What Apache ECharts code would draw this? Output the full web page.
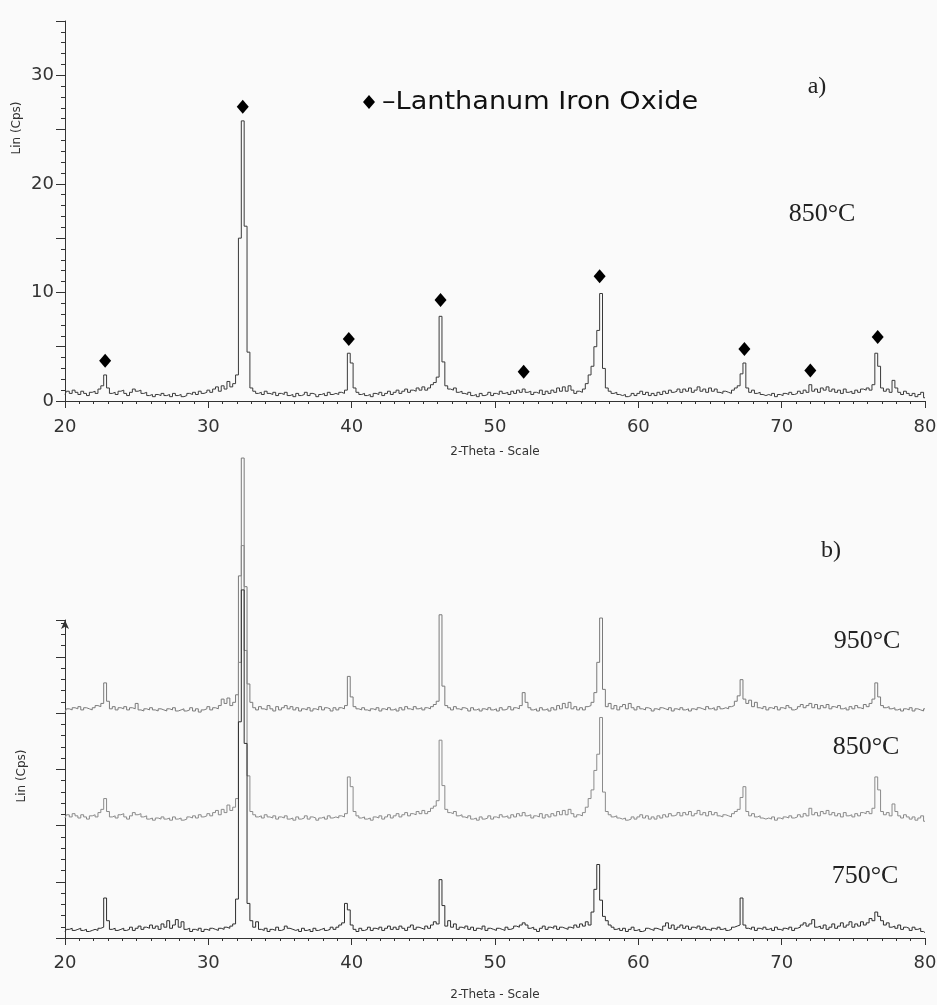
<!DOCTYPE html>
<html>
<head>
<meta charset="utf-8">
<script src="https://cdn.jsdelivr.net/npm/echarts@6/dist/echarts.min.js"></script>
<style>
  html, body { margin: 0; padding: 0; background: #fafafa; }
  #xrd { width: 937px; height: 1005px; }
</style>
</head>
<body>
<div id="xrd"></div>
<script>
// 2-theta sampling of the scans
var thetaStart = 20, thetaStep = 0.2;

// LaFeO3 calcined at 850 °C (Lin, cps) - one row per two degrees, 20.0 ... 79.8, then 80.0
var cps850 = [
	0.6, 0.9, 0.7, 1.0, 0.8,   0.6, 0.9, 0.7, 0.5, 0.8,
	0.9, 0.7, 1.1, 1.4, 2.4,   1.2, 0.7, 0.8, 0.6, 0.9,
	1.0, 0.7, 0.5, 0.8, 1.1,   0.9, 1.0, 0.7, 0.8, 0.5,
	0.6, 0.4, 0.6, 0.5, 0.7,   0.5, 0.6, 0.4, 0.7, 0.5,
	0.6, 0.4, 0.5, 0.7, 0.6,   0.8, 0.6, 0.9, 0.7, 0.8,
	1.0, 0.8, 1.1, 1.3, 0.9,   1.4, 1.1, 1.8, 1.3, 1.6,
	2.4, 15.0, 25.8, 16.1, 4.5, 1.2, 0.9, 0.7, 0.8, 0.6,
	0.9, 0.7, 0.6, 0.8, 0.5,   0.7, 0.6, 0.8, 0.5, 0.6,
	0.4, 0.7, 0.5, 0.6, 0.8,   0.5, 0.7, 0.6, 0.4, 0.6,
	0.7, 0.5, 0.8, 0.6, 0.7,   0.6, 0.8, 0.7, 1.0, 4.4,
	3.5, 1.2, 0.8, 0.6, 0.7,   0.5, 0.6, 0.4, 0.7, 0.6,
	0.8, 0.5, 0.7, 0.9, 0.6,   0.8, 1.0, 0.7, 0.9, 1.1,
	0.8, 1.0, 0.9, 1.2, 1.0,   1.3, 1.0, 1.2, 1.5, 1.7,
	2.2, 7.8, 3.6, 1.4, 1.1,   1.0, 1.2, 0.8, 0.9, 0.7,
	0.6, 0.8, 0.5, 0.6, 0.4,   0.7, 0.5, 0.6, 0.8, 0.5,
	0.7, 0.6, 0.9, 0.7, 0.8,   0.6, 0.9, 0.7, 1.0, 0.8,
	1.1, 0.8, 0.9, 0.6, 0.8,   0.7, 1.0, 0.6, 0.9, 0.7,
	1.0, 0.8, 1.2, 0.9, 1.3,   0.9, 1.4, 1.0, 0.7, 0.9,
	0.8, 1.1, 1.6, 2.4, 3.2,   5.0, 6.5, 9.9, 3.0, 1.2,
	0.9, 0.7, 0.8, 0.6, 0.5,   0.6, 0.4, 0.5, 0.7, 0.5,
	0.7, 0.9, 0.6, 0.8, 0.5,   0.7, 0.5, 0.8, 0.6, 0.9,
	0.7, 1.0, 0.8, 0.9, 1.1,   0.8, 1.1, 0.9, 1.2, 0.8,
	1.0, 1.3, 0.9, 1.1, 0.8,   1.2, 0.9, 1.1, 0.8, 0.7,
	0.9, 0.8, 0.7, 1.0, 1.2,   1.4, 2.5, 3.5, 1.2, 0.8,
	1.0, 0.7, 0.8, 0.6, 0.5,   0.6, 0.5, 0.7, 0.4, 0.6,
	0.5, 0.7, 0.6, 0.8, 0.6,   0.7, 0.9, 0.7, 1.0, 0.8,
	1.5, 0.9, 1.1, 0.8, 1.2,   1.0, 1.3, 0.9, 1.1, 0.8,
	1.0, 0.7, 1.1, 0.8, 0.9,   0.7, 1.0, 0.8, 1.1, 1.0,
	1.2, 1.0, 1.5, 4.4, 3.2,   1.2, 0.9, 1.1, 0.8, 1.9,
	1.2, 0.8, 0.6, 0.9, 0.7,   0.5, 0.7, 0.4, 0.6, 0.8,
	0.3
];

// 950 °C scan (panel b, top trace)
var cps950 = [
	0.4, 0.7, 0.6, 0.8, 0.7,   0.9, 0.6, 0.8, 0.7, 0.6,
	0.8, 1.0, 0.9, 1.2, 3.1,   1.4, 0.7, 0.9, 0.6, 0.8,
	0.7, 0.9, 0.6, 0.8, 0.7,   1.2, 0.6, 0.5, 0.7, 0.6,
	0.8, 0.6, 0.5, 0.7, 0.6,   0.5, 0.7, 0.6, 0.8, 0.5,
	0.6, 0.7, 0.5, 0.6, 0.8,   0.5, 0.7, 0.4, 0.6, 0.7,
	0.9, 0.6, 0.8, 0.7, 1.0,   1.6, 1.2, 1.7, 1.0, 1.3,
	2.0, 13.0, 23.9, 12.0, 3.0, 1.3, 0.8, 0.6, 0.9, 0.7,
	0.6, 1.0, 0.7, 0.5, 0.9,   0.6, 0.8, 1.0, 0.7, 0.9,
	0.6, 0.8, 0.5, 0.7, 0.6,   0.8, 0.5, 0.7, 0.6, 0.9,
	0.6, 0.8, 0.7, 0.5, 0.8,   0.6, 0.8, 0.7, 1.0, 3.7,
	1.8, 0.9, 0.7, 0.6, 0.8,   0.6, 0.5, 0.7, 0.6, 0.8,
	0.5, 0.7, 0.6, 0.8, 0.6,   0.7, 0.5, 0.8, 0.6, 0.9,
	0.7, 0.6, 0.9, 0.7, 0.8,   0.6, 0.8, 0.7, 0.9, 1.1,
	1.4, 9.4, 2.8, 1.0, 0.8,   0.6, 0.9, 0.7, 0.6, 0.8,
	0.7, 0.5, 0.8, 0.6, 0.7,   0.5, 0.7, 0.6, 0.8, 0.6,
	0.7, 0.5, 0.8, 0.6, 0.7,   0.9, 0.6, 0.8, 0.7, 1.0,
	2.2, 1.3, 0.8, 0.6, 0.7,   0.5, 0.8, 0.6, 0.7, 0.5,
	0.8, 0.6, 1.0, 0.7, 1.2,   0.8, 1.3, 0.7, 0.9, 0.6,
	0.8, 0.6, 0.9, 1.0, 1.3,   2.2, 5.0, 9.1, 2.5, 0.9,
	1.2, 0.7, 1.0, 0.6, 0.9,   1.1, 0.7, 1.2, 0.8, 0.6,
	0.9, 0.7, 0.6, 0.8, 0.7,   0.5, 0.7, 0.6, 0.8, 0.7,
	0.6, 0.8, 0.5, 0.7, 0.6,   0.8, 0.6, 0.7, 0.5, 0.7,
	0.6, 0.8, 0.7, 0.6, 0.9,   0.7, 0.8, 0.6, 0.9, 0.7,
	0.8, 0.7, 0.9, 1.0, 1.4,   1.9, 3.4, 1.6, 1.2, 1.5,
	0.9, 1.3, 0.8, 0.7, 0.9,   0.6, 0.8, 0.7, 0.9, 0.6,
	0.8, 0.7, 1.0, 0.8, 0.6,   0.7, 0.9, 1.1, 0.8, 1.0,
	1.2, 0.8, 1.1, 0.7, 1.0,   0.8, 1.1, 0.7, 0.9, 0.8,
	1.0, 0.7, 0.8, 0.6, 0.9,   0.7, 1.0, 0.8, 0.7, 1.1,
	0.9, 1.2, 1.6, 3.1, 1.8,   1.0, 0.8, 0.9, 0.7, 0.8,
	0.6, 0.7, 0.5, 0.7, 0.6,   0.8, 0.5, 0.7, 0.6, 0.5,
	0.7
];

// 750 °C scan (panel b, bottom trace)
var cps750 = [
	0.6, 0.8, 0.9, 0.7, 0.8,   0.9, 0.7, 0.8, 0.6, 0.7,
	0.8, 0.7, 0.9, 1.0, 3.7,   1.6, 0.8, 0.9, 0.7, 0.8,
	0.9, 0.7, 0.8, 1.0, 0.7,   0.9, 1.1, 0.8, 1.0, 0.9,
	1.2, 0.9, 1.1, 0.8, 1.3,   1.0, 1.6, 0.9, 1.2, 1.7,
	1.0, 1.5, 0.8, 0.9, 0.6,   0.8, 0.7, 0.9, 0.6, 0.8,
	0.7, 0.9, 0.8, 0.7, 0.9,   0.8, 1.0, 0.9, 1.1, 1.3,
	3.6, 20.0, 32.2, 18.0, 3.2, 1.6, 1.0, 1.5, 0.8, 0.7,
	0.9, 0.6, 0.8, 0.7, 1.0,   0.7, 0.8, 1.1, 0.9, 0.8,
	0.7, 0.8, 0.6, 0.9, 0.7,   0.8, 0.6, 0.9, 0.7, 0.8,
	0.9, 0.7, 0.8, 1.0, 0.8,   1.0, 1.2, 1.4, 3.2, 2.6,
	1.2, 0.8, 0.6, 0.9, 0.7,   0.8, 1.0, 0.7, 0.9, 0.8,
	1.0, 0.7, 0.9, 1.1, 0.8,   1.0, 0.8, 1.1, 0.9, 0.7,
	1.0, 1.2, 0.8, 1.0, 0.9,   0.8, 1.1, 0.9, 1.2, 1.5,
	1.3, 5.4, 3.0, 1.1, 1.6,   1.0, 1.3, 0.8, 1.0, 0.9,
	1.1, 0.8, 1.0, 0.7, 0.9,   0.8, 1.1, 0.7, 0.9, 0.8,
	0.7, 0.9, 0.8, 0.7, 1.0,   0.8, 0.9, 1.1, 1.0, 1.2,
	1.4, 1.2, 0.9, 1.0, 0.8,   0.6, 0.9, 1.1, 0.8, 1.0,
	0.9, 1.1, 0.8, 1.0, 0.9,   0.8, 1.0, 0.9, 1.2, 1.0,
	1.3, 1.1, 1.5, 1.2, 2.4,   4.5, 6.8, 3.5, 2.0, 1.6,
	1.2, 1.0, 0.8, 0.9, 0.7,   0.9, 0.6, 0.8, 1.0, 0.7,
	0.8, 0.6, 0.7, 0.9, 0.8,   0.7, 0.9, 0.8, 0.7, 1.1,
	1.4, 0.9, 1.2, 0.8, 1.0,   1.2, 0.9, 1.1, 0.8, 1.0,
	0.9, 1.1, 0.8, 1.0, 0.8,   0.7, 0.9, 0.8, 1.0, 0.8,
	0.9, 0.7, 0.8, 1.0, 1.1,   1.2, 3.7, 1.2, 0.9, 0.8,
	1.0, 0.7, 0.9, 0.8, 1.0,   0.8, 0.9, 0.7, 1.0, 0.8,
	0.7, 0.9, 0.8, 1.0, 0.7,   0.9, 1.0, 1.2, 1.4, 1.1,
	1.3, 1.7, 1.0, 1.1, 0.9,   1.2, 0.8, 1.0, 1.3, 0.9,
	1.1, 1.4, 1.0, 1.2, 1.5,   1.0, 1.3, 1.1, 1.5, 1.2,
	1.4, 1.8, 1.6, 2.4, 2.0,   1.6, 1.2, 1.4, 1.0, 1.1,
	0.9, 1.2, 0.8, 1.0, 0.9,   0.7, 1.0, 0.8, 0.9, 0.6,
	0.5
];

// LaFeO3 reflections marked with a diamond in panel a
var markTheta = [22.8, 32.4, 39.8, 46.2, 52.0, 57.3, 67.4, 72.0, 76.7];
var markCps   = [3.7, 27.1, 5.7, 9.3, 2.7, 11.5, 4.8, 2.8, 5.9];

var xTicks = [20, 30, 40, 50, 60, 70, 80];
var yTicksTop = [0, 10, 20, 30];

// panel b: traces are shifted up so they do not overlap
var shift950 = 20.5, shift850 = 10.5, shift750 = 0;
var pxPerCpsB = 10.81;      // vertical scale of panel b
var plotB = { top: 440, axisTop: 620, bottom: 938 };

function toPoints(arr, shift) {
	return arr.map(function(v, i) {
		return [+(thetaStart + i * thetaStep).toFixed(1), +(v + shift).toFixed(2)];
	});
}

var labelFont = { color: '#333', fontSize: 18, fontFamily: 'DejaVu Sans' };
var axisLineStyle = { color: '#333', width: 1 };

function thetaAxis(grid, gap, margin) {
	return {
		type: 'value', gridIndex: grid, min: 20, max: 80, interval: 10,
		name: '2-Theta - Scale', nameLocation: 'middle', nameGap: gap,
		nameTextStyle: { color: '#333', fontSize: 12, fontFamily: 'DejaVu Sans' },
		axisLine: { show: true, lineStyle: axisLineStyle },
		axisTick: { show: true, length: 7, lineStyle: axisLineStyle },
		minorTick: { show: true, splitNumber: 10, length: 3, lineStyle: axisLineStyle },
		axisLabel: Object.assign({ margin: margin, formatter: function(v) {
			return xTicks.indexOf(v) >= 0 ? String(v) : '';
		} }, labelFont),
		splitLine: { show: false }
	};
}

var myChart = echarts.init(document.getElementById('xrd'));
var option = {
	backgroundColor: '#fafafa',
	animation: false,
	grid: [
		{ left: 65, width: 860, top: 21, height: 380, outerBoundsMode: 'none' },
		{ left: 65, width: 860, top: plotB.top, height: plotB.bottom - plotB.top, outerBoundsMode: 'none' },
		{ left: 65, width: 860, top: plotB.axisTop, height: plotB.bottom - plotB.axisTop, outerBoundsMode: 'none' }
	],
	xAxis: [
		thetaAxis(0, 45, 17),
		thetaAxis(1, 51, 16),
		{ type: 'value', gridIndex: 2, min: 20, max: 80, show: false }
	],
	yAxis: [
		{
			type: 'value', gridIndex: 0, min: 0, max: 35, interval: 5,
			axisLine: { show: true, lineStyle: axisLineStyle },
			axisTick: { show: true, length: 9, lineStyle: axisLineStyle },
			minorTick: { show: true, splitNumber: 5, length: 4, lineStyle: axisLineStyle },
			axisLabel: Object.assign({ margin: 11, formatter: function(v) {
				return yTicksTop.indexOf(v) >= 0 ? String(v) : '';
			} }, labelFont),
			splitLine: { show: false }
		},
		{
			type: 'value', gridIndex: 1, min: 0, show: false,
			max: (plotB.bottom - plotB.top) / pxPerCpsB
		},
		{
			type: 'value', gridIndex: 2, min: 0, interval: 5.2,
			max: (plotB.bottom - plotB.axisTop) / pxPerCpsB,
			axisLine: { show: true, lineStyle: axisLineStyle, symbol: ['none', 'arrow'], symbolSize: [6, 9] },
			axisTick: { show: true, length: 9, lineStyle: axisLineStyle },
			minorTick: { show: true, splitNumber: 5, length: 4, lineStyle: axisLineStyle },
			axisLabel: { show: false },
			splitLine: { show: false }
		}
	],
	graphic: [
		{ type: 'text', x: 17, y: 128, rotation: Math.PI / 2,
		  style: { text: 'Lin (Cps)', fill: '#333', font: '12px "DejaVu Sans"', align: 'center', verticalAlign: 'middle' } },
		{ type: 'text', x: 22, y: 776, rotation: Math.PI / 2,
		  style: { text: 'Lin (Cps)', fill: '#333', font: '12px "DejaVu Sans"', align: 'center', verticalAlign: 'middle' } },
		{ type: 'polygon', shape: { points: [[369, 95], [375, 102], [369, 109], [363, 102]] }, style: { fill: '#000' } },
		{ type: 'text', x: 382, y: 103, scaleX: 1.13, originX: 0,
		  style: { text: '\u2013Lanthanum Iron Oxide', fill: '#111', font: '24px "DejaVu Sans"', verticalAlign: 'middle' } },
		{ type: 'text', x: 817, y: 87, style: { text: 'a)', fill: '#222', font: '24px "Liberation Serif"', align: 'center', verticalAlign: 'middle' } },
		{ type: 'text', x: 822, y: 214, style: { text: '850°C', fill: '#222', font: '26px "Liberation Serif"', align: 'center', verticalAlign: 'middle' } },
		{ type: 'text', x: 831, y: 551, style: { text: 'b)', fill: '#222', font: '24px "Liberation Serif"', align: 'center', verticalAlign: 'middle' } },
		{ type: 'text', x: 867, y: 641, style: { text: '950°C', fill: '#222', font: '26px "Liberation Serif"', align: 'center', verticalAlign: 'middle' } },
		{ type: 'text', x: 866, y: 747, style: { text: '850°C', fill: '#222', font: '26px "Liberation Serif"', align: 'center', verticalAlign: 'middle' } },
		{ type: 'text', x: 865, y: 876, style: { text: '750°C', fill: '#222', font: '26px "Liberation Serif"', align: 'center', verticalAlign: 'middle' } }
	],
	series: [
		{
			name: '850°C', type: 'line', xAxisIndex: 0, yAxisIndex: 0, step: 'middle',
			showSymbol: false, data: toPoints(cps850, 0),
			lineStyle: { color: '#3a3a3a', width: 1 }
		},
		{
			name: 'Lanthanum Iron Oxide', type: 'scatter', xAxisIndex: 0, yAxisIndex: 0,
			symbol: 'diamond', symbolSize: [12, 14],
			data: markTheta.map(function(t, i) { return [t, markCps[i]]; }),
			itemStyle: { color: '#000', opacity: 1 }
		},
		{
			name: '950°C', type: 'line', xAxisIndex: 1, yAxisIndex: 1, step: 'middle',
			showSymbol: false, data: toPoints(cps950, shift950),
			lineStyle: { color: '#7a7a7a', width: 1 }
		},
		{
			name: '850°C b', type: 'line', xAxisIndex: 1, yAxisIndex: 1, step: 'middle',
			showSymbol: false, data: toPoints(cps850, shift850),
			lineStyle: { color: '#8a8a8a', width: 1 }
		},
		{
			name: '750°C', type: 'line', xAxisIndex: 1, yAxisIndex: 1, step: 'middle',
			showSymbol: false, data: toPoints(cps750, shift750),
			lineStyle: { color: '#2e2e2e', width: 1 }
		}
	]
};
myChart.setOption(option);
</script>
</body>
</html>
